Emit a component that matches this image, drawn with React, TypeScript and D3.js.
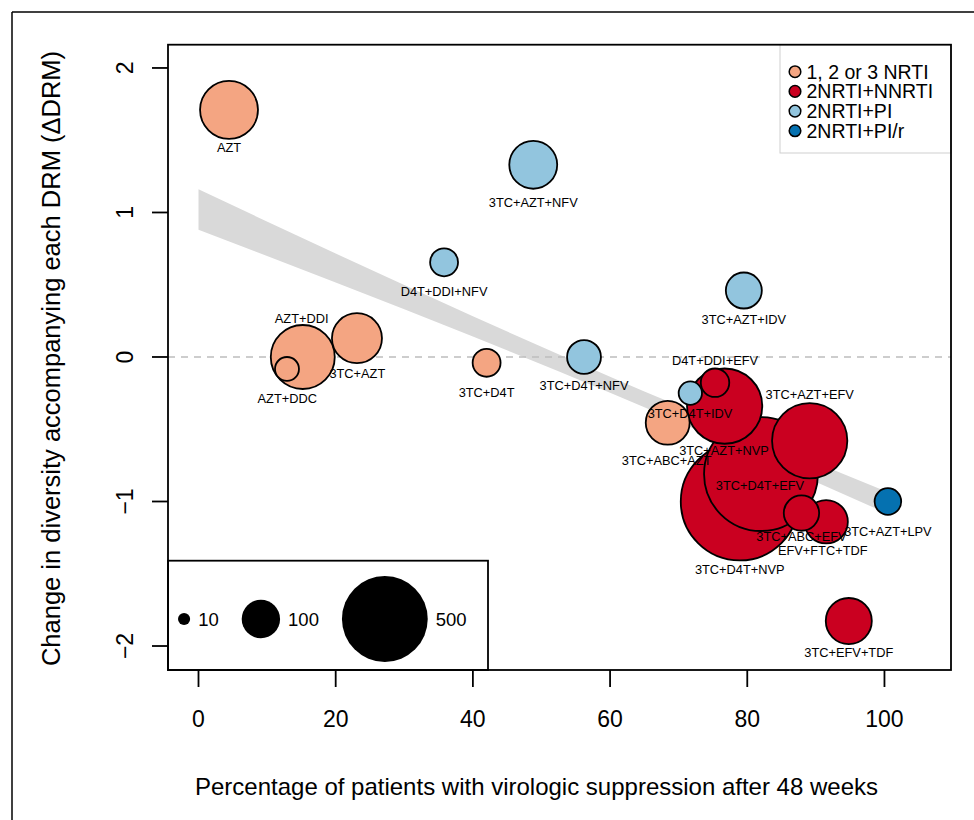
import React from 'react';
import * as d3 from 'd3';

// ---------- data ----------
const CLASSES = ['1, 2 or 3 NRTI', '2NRTI+NNRTI', '2NRTI+PI', '2NRTI+PI/r'];
const CLASS_COLORS = ['#F4A582', '#CA0020', '#92C5DE', '#0571B0'];

const REGIMENS = [
  'AZT', '3TC+AZT+NFV', 'D4T+DDI+NFV', '3TC+AZT+IDV', 'AZT+DDI', 'AZT+DDC', '3TC+AZT',
  '3TC+D4T', '3TC+D4T+NFV', '3TC+D4T+IDV', 'D4T+DDI+EFV', '3TC+AZT+NVP', '3TC+ABC+AZT',
  '3TC+AZT+EFV', '3TC+D4T+NVP', '3TC+D4T+EFV', '3TC+ABC+EFV', 'EFV+FTC+TDF', '3TC+AZT+LPV',
  '3TC+EFV+TDF',
];
const SUPPRESSION = [4.45, 48.8, 35.8, 79.5, 15.2, 12.9, 23.1, 42.0, 56.2, 71.7, 75.3, 76.7, 68.4, 89.1, 78.9, 82.0, 87.9, 91.5, 100.5, 94.8];
const DELTA_DRM = [1.71, 1.33, 0.655, 0.46, 0.0, -0.083, 0.13, -0.04, 0.0, -0.25, -0.178, -0.34, -0.455, -0.58, -1.0, -0.81, -1.08, -1.14, -1.0, -1.827];
const PATIENTS = [228, 156, 53, 88, 278, 39, 170, 53, 78, 37, 55, 385, 131, 385, 944, 881, 85, 128, 48, 144];
const REGIMEN_CLASS = [0, 2, 2, 2, 0, 0, 0, 0, 2, 2, 1, 1, 0, 1, 1, 1, 1, 1, 3, 1];
const LABEL_X = [4.45, 48.8, 35.8, 79.5, 15.04, 12.94, 23.15, 42.0, 56.2, 71.65, 75.3, 76.6, 68.25, 89.1, 78.9, 81.85, 87.9, 91.0, 100.5, 94.8];
const LABEL_Y = [1.453, 1.066, 0.452, 0.256, 0.268, -0.286, -0.113, -0.249, -0.194, -0.394, -0.021, -0.644, -0.713, -0.263, -1.469, -0.891, -1.244, -1.34, -1.206, -2.048];

const X_TICKS = [0, 20, 40, 60, 80, 100];
const Y_TICKS = [-2, -1, 0, 1, 2];
const SIZE_LEGEND = [10, 100, 500];

const BAND_X = [0, 20, 40, 60, 80, 100];
const BAND_UPPER = [1.16, 0.716, 0.282, -0.137, -0.536, -0.925];
const BAND_LOWER = [0.88, 0.516, 0.142, -0.247, -0.656, -1.075];

// ---------- layout ----------
const W = 974;
const H = 820;
const PL = 168, PT = 44.7, PR = 951, PB = 670;
const FONT = "'Liberation Sans', Arial, Helvetica, sans-serif";

export default function App() {
  const xs = d3.scaleLinear().domain([-4.446, 109.7]).range([PL, PR]);
  const ys = d3.scaleLinear().domain([-2.166, 2.161]).range([PB, PT]);
  const rs = d3.scaleSqrt().domain([0, 500]).range([0, 42.9]);

  const bandData = BAND_X.map((x, i) => ({ x, lo: BAND_LOWER[i], hi: BAND_UPPER[i] }));
  const bandPath = d3
    .area<{ x: number; lo: number; hi: number }>()
    .x((d) => xs(d.x))
    .y0((d) => ys(d.lo))
    .y1((d) => ys(d.hi))
    .curve(d3.curveMonotoneX)(bandData) as string;

  const points = REGIMENS.map((name, i) => ({
    name,
    x: SUPPRESSION[i],
    y: DELTA_DRM[i],
    n: PATIENTS[i],
    cls: REGIMEN_CLASS[i],
    lx: LABEL_X[i],
    ly: LABEL_Y[i],
  }));
  const drawOrder = [...points].sort((a, b) => b.n - a.n);

  // size legend flow layout
  const sizeFont = 18.5;
  let cursor = 178;
  const sizeItems = SIZE_LEGEND.map((v) => {
    const r = rs(v);
    const cx = cursor + r;
    const tx = cx + r + 8;
    const tw = String(v).length * sizeFont * 0.556;
    cursor = tx + tw + 23;
    return { v, r, cx, tx };
  });
  const sizeCy = 619;

  const legendX = 780;
  const legendRowY = (i: number) => 71.7 + i * 19.7;

  return (
    <svg
      width={W}
      height={H}
      style={{ position: 'absolute', left: 0, top: 0, background: '#fff' }}
      fontFamily={FONT}
    >
      <defs>
        <clipPath id="plotclip">
          <rect x={PL} y={PT} width={PR - PL} height={PB - PT} />
        </clipPath>
      </defs>
      <rect x={0} y={0} width={W} height={H} fill="#fff" />
      {/* outer frame */}
      <line x1={12} y1={12} x2={W} y2={12} stroke="#000" strokeWidth={1.5} />
      <line x1={12} y1={12} x2={12} y2={H} stroke="#000" strokeWidth={1.5} />

      <g clipPath="url(#plotclip)">
        <path d={bandPath} fill="#d9d9d9" stroke="none" />
        <line
          x1={PL}
          x2={PR}
          y1={ys(0)}
          y2={ys(0)}
          stroke="#bdbdbd"
          strokeWidth={1.5}
          strokeDasharray="7,6"
        />
        {drawOrder.map((p) => (
          <circle
            key={p.name}
            cx={xs(p.x)}
            cy={ys(p.y)}
            r={rs(p.n)}
            fill={CLASS_COLORS[p.cls]}
            stroke="#000"
            strokeWidth={1.8}
          />
        ))}
        {points.map((p) => (
          <text
            key={'l' + p.name}
            x={xs(p.lx)}
            y={ys(p.ly)}
            textAnchor="middle"
            dominantBaseline="central"
            fontSize={12.8}
            fill="#000"
          >
            {p.name}
          </text>
        ))}
      </g>

      {/* class legend */}
      <rect
        x={legendX}
        y={PT}
        width={PR - legendX}
        height={153 - PT}
        fill="#fff"
        stroke="#cfcfcf"
        strokeWidth={1}
      />
      {CLASSES.map((c, i) => (
        <g key={c}>
          <circle cx={795} cy={legendRowY(i)} r={5.8} fill={CLASS_COLORS[i]} stroke="#000" strokeWidth={1.5} />
          <text x={806.5} y={legendRowY(i)} dominantBaseline="central" fontSize={19.5} fill="#000">
            {c}
          </text>
        </g>
      ))}

      {/* size legend */}
      <rect x={PL} y={560.7} width={488 - PL} height={PB - 560.7} fill="#fff" stroke="#000" strokeWidth={1.8} />
      {sizeItems.map((s) => (
        <g key={s.v}>
          <circle cx={s.cx} cy={sizeCy} r={s.r} fill="#000" />
          <text x={s.tx} y={sizeCy} dominantBaseline="central" fontSize={sizeFont} fill="#000">
            {s.v}
          </text>
        </g>
      ))}

      {/* plot border */}
      <rect x={PL} y={PT} width={PR - PL} height={PB - PT} fill="none" stroke="#000" strokeWidth={1.8} />

      {/* x axis */}
      {X_TICKS.map((t) => (
        <g key={'x' + t}>
          <line x1={xs(t)} x2={xs(t)} y1={PB} y2={PB + 17} stroke="#000" strokeWidth={1.8} />
          <text x={xs(t)} y={727} textAnchor="middle" fontSize={23} fill="#000">
            {t}
          </text>
        </g>
      ))}
      {/* y axis */}
      {Y_TICKS.map((t) => (
        <g key={'y' + t}>
          <line x1={PL - 16} x2={PL} y1={ys(t)} y2={ys(t)} stroke="#000" strokeWidth={1.8} />
          <text
            transform={`translate(133, ${ys(t)}) rotate(-90)`}
            textAnchor="middle"
            fontSize={23}
            fill="#000"
          >
            {t === -1 || t === -2 ? '\u2212' + Math.abs(t) : t}
          </text>
        </g>
      ))}

      <text x={536.5} y={795} textAnchor="middle" fontSize={24} fill="#000">
        Percentage of patients with virologic suppression after 48 weeks
      </text>
      <text transform={`translate(60, 358.5) rotate(-90)`} textAnchor="middle" fontSize={25.5} fill="#000">
        Change in diversity accompanying each DRM (ΔDRM)
      </text>
    </svg>
  );
}
